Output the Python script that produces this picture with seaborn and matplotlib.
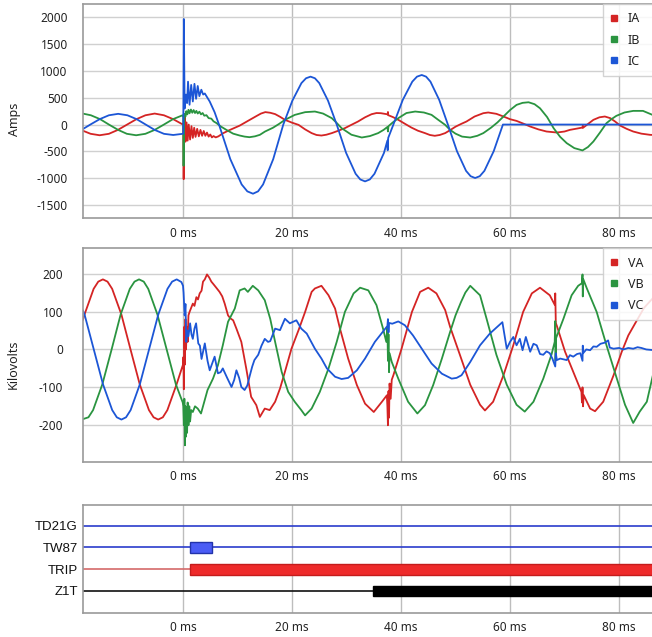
import numpy as np
import pandas as pd
import matplotlib
matplotlib.use("Agg")
import matplotlib.pyplot as plt
import seaborn as sns
from matplotlib.lines import Line2D

IA = [(-18.4, -114), (-16.95, -173), (-15.3, -200), (-13.6, -173), (-11.95, -100), (-10.25, 0),
      (-8.55, 100), (-6.9, 173), (-5.2, 205), (-3.5, 173), (-1.8, 100), (-0.2, 10),
      (0.05, 15), (0.12, -1020), (0.2, -300), (0.3, 150), (0.45, -320), (0.65, 40), (0.85, -300),
      (1.05, 0), (1.3, -280), (1.55, -30), (1.8, -250), (2.05, -60), (2.3, -230), (2.6, -80),
      (2.9, -220), (3.2, -100), (3.5, -210), (3.8, -120), (4.1, -210), (4.4, -150), (4.7, -225),
      (5.0, -185), (5.3, -240), (5.6, -215), (6.0, -240), (6.5, -220), (7.3, -165), (8.5, -105),
      (10.4, -20), (12.2, 85), (13.5, 160), (14.3, 205), (15.1, 232), (16.0, 220), (16.9, 195),
      (17.8, 145), (18.7, 88), (20.0, 35), (21.2, -6), (22.4, -90), (23.6, -160), (24.5, -195),
      (25.4, -205), (26.3, -190), (27.3, -160), (28.5, -115), (29.7, -67), (30.9, -5), (32.1, 56),
      (33.4, 135), (34.6, 193), (35.5, 215), (36.3, 212), (37.0, 200), (37.55, 190), (37.6, 235),
      (37.65, 175), (38.5, 140), (39.5, 88), (40.7, 15), (41.9, -56), (43.1, -115), (44.4, -160),
      (45.3, -195), (46.2, -210), (47.1, -195), (48.1, -160), (49.0, -105), (50.0, -40), (51.0, 10),
      (52.0, 56), (53.5, 150), (55.1, 212), (56.0, 225), (57.5, 200), (58.8, 150), (60.0, 100),
      (61.2, 68), (62.5, 15), (63.7, -37), (65.2, -90), (66.7, -130), (68.6, -149), (70.0, -130),
      (71.0, -99), (72.3, -75), (73.3, -56), (73.35, -20), (73.4, -60), (74.3, 10), (75.3, 88),
      (76.4, 135), (77.4, 150), (78.4, 119), (79.3, 55), (80.2, -19), (81.4, -80), (82.6, -130),
      (84.1, -170), (85.7, -192), (86.5, -195)]

IB = [(-18.4, 205), (-16.9, 173), (-15.2, 100), (-13.6, 0), (-11.9, -100), (-10.3, -173),
      (-8.6, -200), (-6.9, -173), (-5.2, -100), (-3.5, 0), (-1.85, 100), (-0.15, 170),
      (0.05, 175), (0.1, -770), (0.18, 0), (0.3, 200), (0.45, 150), (0.6, 250), (0.8, 190),
      (1.0, 275), (1.2, 210), (1.45, 280), (1.7, 220), (1.95, 270), (2.2, 215), (2.45, 255),
      (2.7, 205), (3.0, 240), (3.3, 190), (3.6, 215), (3.9, 165), (4.3, 175), (4.7, 120),
      (5.2, 110), (5.6, 60), (6.1, 30), (7.0, -40), (7.95, -99), (9.2, -170), (10.4, -205),
      (11.3, -225), (12.2, -236), (13.2, -220), (14.1, -192), (15.05, -130), (16.5, -60),
      (17.6, 10), (18.7, 88), (20.5, 180), (22.4, 231), (24.2, 243), (25.7, 205), (27.3, 119),
      (28.2, 30), (29.1, -68), (30.9, -190), (32.8, -242), (34.3, -215), (35.8, -160),
      (36.8, -100), (37.5, -45), (37.6, -130), (37.7, -30), (38.5, 40), (39.5, 119), (41.0, 215),
      (42.6, 243), (44.2, 225), (45.6, 181), (46.8, 90), (48.1, -6), (49.0, -99), (50.0, -170),
      (51.2, -225), (52.7, -242), (54.0, -210), (55.1, -160), (56.5, -60), (57.7, 40), (58.8, 150),
      (60.0, 270), (61.2, 367), (62.3, 405), (63.4, 416), (64.5, 380), (65.5, 304), (66.8, 140),
      (68.0, -68), (69.2, -230), (70.4, -347), (71.8, -440), (73.3, -483), (74.3, -420),
      (75.3, -316), (76.5, -150), (77.7, 26), (78.6, 100), (79.5, 162), (81.0, 225), (82.6, 255),
      (84.4, 255), (86.5, 165)]

IC = [(-18.4, -86), (-17.0, 0), (-15.3, 100), (-13.6, 173), (-11.9, 200), (-10.2, 173),
      (-8.5, 100), (-6.85, 0), (-5.2, -100), (-3.5, -173), (-1.8, -195), (-0.2, -175),
      (0.05, -170), (0.15, 1970), (0.3, 300), (0.55, 560), (0.75, 400), (0.92, 800), (1.2, 370),
      (1.5, 740), (1.8, 430), (2.1, 760), (2.4, 480), (2.7, 720), (3.0, 530), (3.36, 650),
      (3.7, 560), (4.0, 580), (4.9, 430), (5.8, 230), (6.6, 0), (8.68, -646), (10.76, -1118),
      (11.8, -1247), (12.84, -1291), (13.77, -1247), (14.69, -1118), (16.55, -646), (18.4, 0),
      (20.07, 447), (21.73, 774), (22.57, 864), (23.4, 894), (24.2, 864), (25.0, 774), (26.6, 447),
      (28.2, 0), (29.93, -530), (31.67, -919), (32.53, -1025), (33.4, -1061), (34.27, -1025),
      (35.13, -919), (36.87, -530), (37.5, -300), (37.55, -480), (37.65, -250), (38.6, 0),
      (40.33, 462), (42.07, 801), (42.93, 894), (43.8, 925), (44.6, 894), (45.4, 801), (47.0, 462),
      (48.6, 0), (50.27, -499), (51.93, -864), (52.77, -964), (53.6, -998), (54.45, -964),
      (55.3, -864), (57.0, -499), (58.7, 0), (86.5, 0)]

# --- Tensoes (kV) ---
VA = [(-18.4, 77), (-18.08, 92), (-16.4, 160), (-15.55, 179), (-14.7, 185), (-13.85, 179),
      (-13.0, 160), (-11.3, 92), (-9.63, 0), (-7.94, -92), (-6.25, -160), (-5.4, -179),
      (-4.56, -185), (-3.7, -179), (-2.87, -160), (-1.18, -92), (0.0, -40),
      (0.08, -20), (0.15, -105), (0.25, 60), (0.35, -40), (0.45, 80), (0.55, 0), (0.7, 60),
      (0.85, 20), (1.0, 90), (1.2, 99), (1.5, 110), (1.8, 121), (2.1, 115), (2.45, 138),
      (2.75, 132), (3.06, 148), (3.4, 155), (3.67, 179), (4.0, 185), (4.4, 198), (4.8, 190),
      (5.2, 179), (5.6, 172), (6.1, 163), (6.7, 152), (7.2, 140), (7.65, 121), (8.26, 90),
      (8.7, 82), (9.2, 77), (9.8, 55), (10.7, 20), (11.6, -50), (12.5, -125), (13.45, -147),
      (14.1, -178), (15.0, -156), (15.9, -160), (16.9, -138), (17.8, -103), (18.7, -59),
      (19.9, 2), (21.2, 51), (22.4, 99), (23.6, 152), (24.2, 161), (25.4, 168), (26.7, 143),
      (27.9, 108), (28.8, 55), (30.3, -24), (31.9, -94), (33.4, -143), (35.0, -165), (36.5, -138),
      (37.4, -121), (37.5, -150), (37.6, -200), (37.7, -110), (37.8, -180), (37.9, -90),
      (38.1, -130), (38.3, -80), (38.6, -68), (40.1, 2), (42.0, 99), (43.5, 152), (45.0, 163),
      (46.5, 148), (48.1, 104), (49.0, 60), (50.8, -14), (52.7, -93), (54.5, -146), (55.4, -161),
      (56.9, -138), (58.8, -68), (60.6, 11), (62.4, 99), (64.0, 148), (65.5, 163), (67.3, 143),
      (68.2, 118), (68.3, 148), (68.4, 70), (68.6, 62), (70.1, -6), (71.6, -59), (73.1, -112),
      (73.2, -140), (73.3, -100), (73.4, -150), (73.5, -120), (74.7, -156), (75.6, -163),
      (77.1, -138), (79.0, -68), (80.5, -6), (81.7, 37), (83.2, 75), (84.6, 110), (86.5, 140)]

VB = [(-18.4, -184), (-17.35, -179), (-16.5, -160), (-14.8, -92), (-13.1, 0), (-11.45, 92),
      (-9.76, 160), (-8.9, 179), (-8.07, 185), (-7.2, 179), (-6.38, 160), (-4.69, 92), (-3.0, 0),
      (-1.31, -92), (-0.05, -140),
      (0.05, -150), (0.15, -200), (0.25, -130), (0.35, -253), (0.45, -150), (0.55, -230),
      (0.65, -160), (0.75, -220), (0.85, -140), (1.0, -200), (1.15, -150), (1.3, -190),
      (1.5, -160), (1.8, -165), (2.2, -150), (2.7, -156), (3.3, -169), (3.9, -138), (4.5, -107),
      (5.5, -77), (6.4, -42), (7.3, 11), (8.26, 73), (9.5, 108), (10.4, 156), (11.3, 161),
      (11.9, 152), (12.8, 168), (13.8, 156), (15.0, 130), (16.0, 81), (16.9, 20), (18.1, -59),
      (19.3, -112), (20.5, -138), (21.7, -160), (22.4, -174), (23.6, -156), (25.1, -112),
      (26.7, -50), (28.2, 20), (29.7, 99), (31.3, 148), (32.5, 163), (34.0, 156), (35.5, 117),
      (36.7, 55), (37.3, 20), (37.5, 60), (37.6, -30), (37.7, 40), (37.8, -60), (37.9, -10),
      (38.3, -33), (39.5, -77), (41.3, -138), (43.0, -169), (44.4, -147), (45.9, -94),
      (47.5, -24), (49.0, 46), (50.0, 90), (51.0, 125), (51.8, 150), (52.7, 168), (54.5, 143),
      (55.7, 81), (57.5, -14), (59.4, -93), (61.2, -146), (62.7, -164), (64.3, -138), (66.1, -77),
      (67.6, -14), (68.2, 20), (68.3, 75), (68.35, -30), (68.45, 30), (69.8, 81), (71.3, 143),
      (72.5, 168), (73.2, 175), (73.3, 198), (73.35, 140), (73.45, 185), (74.1, 161), (75.9, 99),
      (77.7, 11), (79.6, -77), (81.1, -146), (82.6, -194), (83.8, -164), (85.1, -138), (86.5, -50)]

VC = [(-18.4, 104), (-18.06, 92), (-16.37, 0), (-14.68, -92), (-12.99, -160), (-12.15, -179),
      (-11.3, -185), (-10.45, -179), (-9.61, -160), (-7.92, -92), (-6.23, 0), (-4.54, 92),
      (-2.85, 160), (-2.0, 179), (-1.16, 185), (-0.3, 178),
      (0.0, 168), (0.1, 150), (0.3, 90), (0.45, 120), (0.6, 20), (0.8, 50), (1.0, 35), (1.3, 69),
      (1.55, 40), (1.8, 28), (2.1, 55), (2.4, 69), (2.8, 16), (3.1, 10), (3.4, -25), (3.7, -5),
      (4.0, 16), (4.5, -30), (4.9, -55), (5.4, -35), (5.8, -19), (6.1, -40), (6.4, -63),
      (6.9, -60), (7.3, -50), (8.1, -75), (8.9, -99), (9.4, -80), (9.8, -55), (10.3, -75),
      (10.7, -99), (11.3, -107), (11.8, -95), (12.2, -72), (12.7, -45), (13.1, -28), (13.8, -14),
      (14.4, 10), (15.0, 28), (15.6, 20), (16.0, 22), (16.9, 55), (17.8, 51), (18.7, 81),
      (19.6, 69), (20.8, 77), (21.7, 55), (22.7, 42), (24.2, 2), (25.4, -24), (26.4, -50),
      (27.9, -72), (29.1, -78), (30.3, -75), (31.9, -55), (33.4, -24), (35.2, 20), (37.1, 55),
      (37.5, 62), (37.6, 80), (37.7, 45), (37.8, 70), (38.4, 68), (39.5, 74), (40.7, 64),
      (42.2, 37), (43.8, 2), (45.6, -37), (47.5, -64), (49.3, -77), (50.2, -75), (51.1, -68),
      (52.7, -33), (54.5, 11), (56.3, 42), (58.6, 72), (59.2, 20), (59.4, 2), (60.0, 20),
      (60.6, 33), (61.2, 11), (61.8, 28), (62.3, -2), (62.9, 33), (63.7, -6), (64.3, 15),
      (64.9, 11), (65.5, -12), (66.1, -14), (66.7, -5), (67.3, -10), (67.8, -25), (68.3, -45),
      (68.4, -10), (68.6, -28), (69.2, -24), (70.4, -28), (71.0, -15), (71.6, -19), (72.3, -12),
      (72.9, -10), (73.3, -30), (73.35, 10), (73.4, -10), (74.0, 0), (74.7, -2), (75.3, 8),
      (75.9, 7), (76.6, 15), (77.4, 18), (78.0, 24), (78.3, 5), (79.0, 2), (80.0, 4), (80.8, 0),
      (81.7, 4), (82.6, 2), (83.4, 6), (84.1, 4), (85.0, 0), (86.5, -2)]

# --- Sinais digitais: nome, inicio e fim do estado ativo (ms) ---
SINAIS = ["TD21G", "TW87", "TRIP", "Z1T"]
ATIVO_INICIO = [None, 1.2, 1.2, 34.9]
ATIVO_FIM = [None, 5.3, 90.0, 90.0]

X_TICKS = [0, 20, 40, 60, 80]
AMPS_TICKS = [-1500, -1000, -500, 0, 500, 1000, 1500, 2000]
KV_TICKS = [-200, -100, 0, 100, 200]

RED, GREEN, BLUE = "#d42424", "#2a9440", "#1c56d6"
GRID_H, GRID_V, SPINE = "#d0d0d0", "#bdbdbd", "#9a9a9a"
TXT = "#222222"
XLIM = (-18.35, 86.05)

sns.set_style("white")
plt.rcParams['font.family'] = ['Noto Sans', 'DejaVu Sans']

W, H = 652, 637
fig = plt.figure(figsize=(W / 100, H / 100), dpi=100)


def eixo_px(left, top, right, bottom):
    return fig.add_axes([left / W, 1 - bottom / H, (right - left) / W, (bottom - top) / H])


def quadro(series):
    rows = [(nome, t, v) for nome, pts in series.items() for t, v in pts]
    return pd.DataFrame(rows, columns=["sinal", "t", "valor"])


def estilo(ax, yticks, ypad):
    ax.set_xlim(*XLIM)
    ax.set_xticks(X_TICKS)
    ax.set_xticklabels([f"{v} ms" for v in X_TICKS])
    ax.set_yticks(yticks)
    ax.set_yticklabels([str(v) for v in yticks])
    ax.xaxis.grid(True, color=GRID_V, lw=1.0)
    ax.yaxis.grid(True, color=GRID_H, lw=1.0)
    ax.set_axisbelow(True)
    ax.tick_params(axis="x", length=0, labelsize=8.5, colors=TXT, pad=6)
    ax.tick_params(axis="y", length=0, labelsize=8.5, colors=TXT, pad=ypad)
    for s in ["left", "bottom", "top"]:
        ax.spines[s].set_color(SPINE)
        ax.spines[s].set_linewidth(1.2)
    ax.spines["right"].set_visible(False)
    ax.set_xlabel("")


def legenda(ax, nomes, cores, topo_px):
    # caixa da legenda passa da borda direita, como no original
    handles = [Line2D([], [], ls="", marker="s", markersize=5, markerfacecolor=c,
                      markeredgecolor=c) for c in cores]
    leg = ax.legend(handles, nomes, loc="upper left",
                    bbox_to_anchor=(603 / W, 1 - topo_px / H, 60 / W, 0),
                    bbox_transform=fig.transFigure, mode="expand", frameon=True, fancybox=False,
                    edgecolor="#cccccc", framealpha=0.85, fontsize=9, borderpad=0.66,
                    labelspacing=0.66, handlelength=0.5, handletextpad=0.8, borderaxespad=0)
    leg.get_frame().set_linewidth(1.0)
    for t in leg.get_texts():
        t.set_color(TXT)


# --- 1. Correntes ---
ax1 = eixo_px(83, 4, 652, 218.3)
sns.lineplot(data=quadro({"IA": IA, "IB": IB, "IC": IC}), x="t", y="valor", hue="sinal",
             palette={"IA": RED, "IB": GREEN, "IC": BLUE}, estimator=None, sort=False,
             linewidth=1.3, legend=False, ax=ax1)
ax1.set_ylim(-1750, 2250)
estilo(ax1, AMPS_TICKS, 11)
ax1.set_ylabel("Amps", fontsize=9, color=TXT)
ax1.yaxis.set_label_coords(-0.109, 0.461)
legenda(ax1, ["IA", "IB", "IC"], [RED, GREEN, BLUE], 4)

# --- 2. Tensoes ---
ax2 = eixo_px(83, 248.3, 652, 462)
sns.lineplot(data=quadro({"VA": VA, "VB": VB, "VC": VC}), x="t", y="valor", hue="sinal",
             palette={"VA": RED, "VB": GREEN, "VC": BLUE}, estimator=None, sort=False,
             linewidth=1.3, legend=False, ax=ax2)
ax2.set_ylim(-297, 267)
estilo(ax2, KV_TICKS, 14.4)
ax2.set_ylabel("Kilovolts", fontsize=9, color=TXT)
ax2.yaxis.set_label_coords(-0.111, 0.459)
legenda(ax2, ["VA", "VB", "VC"], [RED, GREEN, BLUE], 248.3)

# --- 3. Sinais digitais ---
ax3 = eixo_px(83, 505, 652, 612.7)
linha_cor = ["#2a3ccc", "#2a3ccc", "#d46a6a", "#111111"]
barra_cor = [None, "#4a5cf5", "#ee2a2a", "#000000"]
barra_borda = [None, "#2233aa", "#c41c1c", "#000000"]
ypos = [4, 3, 2, 1]
for i, nome in enumerate(SINAIS):
    fim_linha = ATIVO_INICIO[i] if ATIVO_INICIO[i] is not None and ATIVO_FIM[i] > XLIM[1] else XLIM[1]
    ax3.hlines(ypos[i], XLIM[0], fim_linha, color=linha_cor[i], lw=1.2)
    if ATIVO_INICIO[i] is not None:
        ax3.barh(ypos[i], ATIVO_FIM[i] - ATIVO_INICIO[i], left=ATIVO_INICIO[i], height=0.5,
                 color=barra_cor[i], edgecolor=barra_borda[i], linewidth=1.0, zorder=3)
ax3.set_xlim(*XLIM)
ax3.set_ylim(0, 4.95)
ax3.set_xticks(X_TICKS)
ax3.set_xticklabels([f"{v} ms" for v in X_TICKS])
ax3.set_yticks(ypos)
ax3.set_yticklabels(SINAIS, family=["Liberation Sans", "DejaVu Sans"])
ax3.xaxis.grid(True, color=GRID_V, lw=1.0)
ax3.yaxis.grid(False)
ax3.set_axisbelow(True)
ax3.tick_params(axis="x", length=0, labelsize=8.5, colors=TXT, pad=6)
ax3.tick_params(axis="y", length=0, labelsize=9.5, colors="#111111", pad=3.6)
for s in ["left", "bottom", "top"]:
    ax3.spines[s].set_color(SPINE)
    ax3.spines[s].set_linewidth(1.2)
ax3.spines["right"].set_visible(False)

fig.savefig("out.png", dpi=100)
